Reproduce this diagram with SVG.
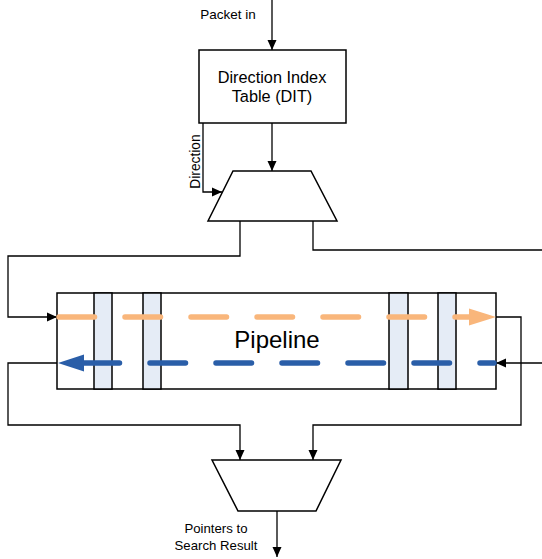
<svg xmlns="http://www.w3.org/2000/svg" width="542" height="559" viewBox="0 0 542 559">
<defs>
<marker id="ah" markerWidth="10" markerHeight="10" refX="10" refY="5" orient="auto" markerUnits="userSpaceOnUse">
<path d="M0,0.5 L10,5 L0,9.5 Z" fill="#000"/>
</marker>
</defs>
<style>
.box{fill:#fff;stroke:#000;stroke-width:1.5}
.ln{fill:none;stroke:#000;stroke-width:1.3}
.reg{fill:#e5ecf6;stroke:#000;stroke-width:1.5}
.t{font-family:"Liberation Sans",Arial,sans-serif;fill:#000}
</style>
<rect width="542" height="559" fill="#fff"/>
<g id="connectors">
<line class="ln" x1="272" y1="0" x2="272" y2="50" marker-end="url(#ah)"/>
<line class="ln" x1="272" y1="123" x2="272" y2="171" marker-end="url(#ah)"/>
<polyline class="ln" points="203,123 203,192 222,192" marker-end="url(#ah)"/>
<polyline class="ln" points="240,221 240,256 8,256 8,317 57,317" marker-end="url(#ah)"/>
<polyline class="ln" points="313,221 313,250 542,250"/>
<polyline class="ln" points="496,317 521,317 521,425 313,425 313,460" marker-end="url(#ah)"/>
<line class="ln" x1="542" y1="363" x2="496" y2="363" marker-end="url(#ah)"/>
<polyline class="ln" points="57,363 8,363 8,425 240,425 240,460" marker-end="url(#ah)"/>
<line class="ln" x1="277" y1="511" x2="277" y2="557" marker-end="url(#ah)"/>
</g>
<g id="packet-in-label"><text class="t" x="228" y="19" font-size="13.5" text-anchor="middle">Packet in</text></g>
<g id="dit">
<rect class="box" x="199" y="50" width="147" height="73"/>
<text class="t" x="272" y="83" font-size="16.3" text-anchor="middle">Direction Index</text>
<text class="t" x="272" y="102" font-size="16.3" text-anchor="middle">Table (DIT)</text>
</g>
<g id="direction-label"><text class="t" x="0" y="0" font-size="13.8" text-anchor="middle" transform="translate(200,161.5) rotate(-90)">Direction</text></g>
<g id="demux">
<polygon class="box" points="233,171 311,171 337,221 208,221"/>
</g>
<g id="pipeline">
<rect class="box" x="57" y="293" width="439" height="96"/>
<rect class="reg" x="94" y="293" width="18" height="96"/>
<rect class="reg" x="143" y="293" width="18" height="96"/>
<rect class="reg" x="389" y="293" width="19" height="96"/>
<rect class="reg" x="438" y="293" width="18" height="96"/>
<line x1="59" y1="317" x2="472" y2="317" stroke="#f9b67b" stroke-width="5.5" stroke-linecap="round" stroke-dasharray="35.5 30.5"/>
<path d="M469,308.5 L496,317 L469,325.5 Z" fill="#f9b67b"/>
<line x1="84" y1="363" x2="494" y2="363" stroke="#2a5ea8" stroke-width="5.5" stroke-linecap="round" stroke-dasharray="35.5 30.5"/>
<path d="M84,354.5 L58,363 L84,371.5 Z" fill="#2a5ea8"/>
<text class="t" x="277" y="348" font-size="24" text-anchor="middle">Pipeline</text>
</g>
<g id="mux">
<polygon class="box" points="212,460 341,460 316,511 238,511"/>
</g>
<g id="output-label">
<text class="t" x="216" y="533" font-size="13.2" text-anchor="middle">Pointers to</text>
<text class="t" x="216" y="550" font-size="13.2" text-anchor="middle">Search Result</text>
</g>
</svg>
